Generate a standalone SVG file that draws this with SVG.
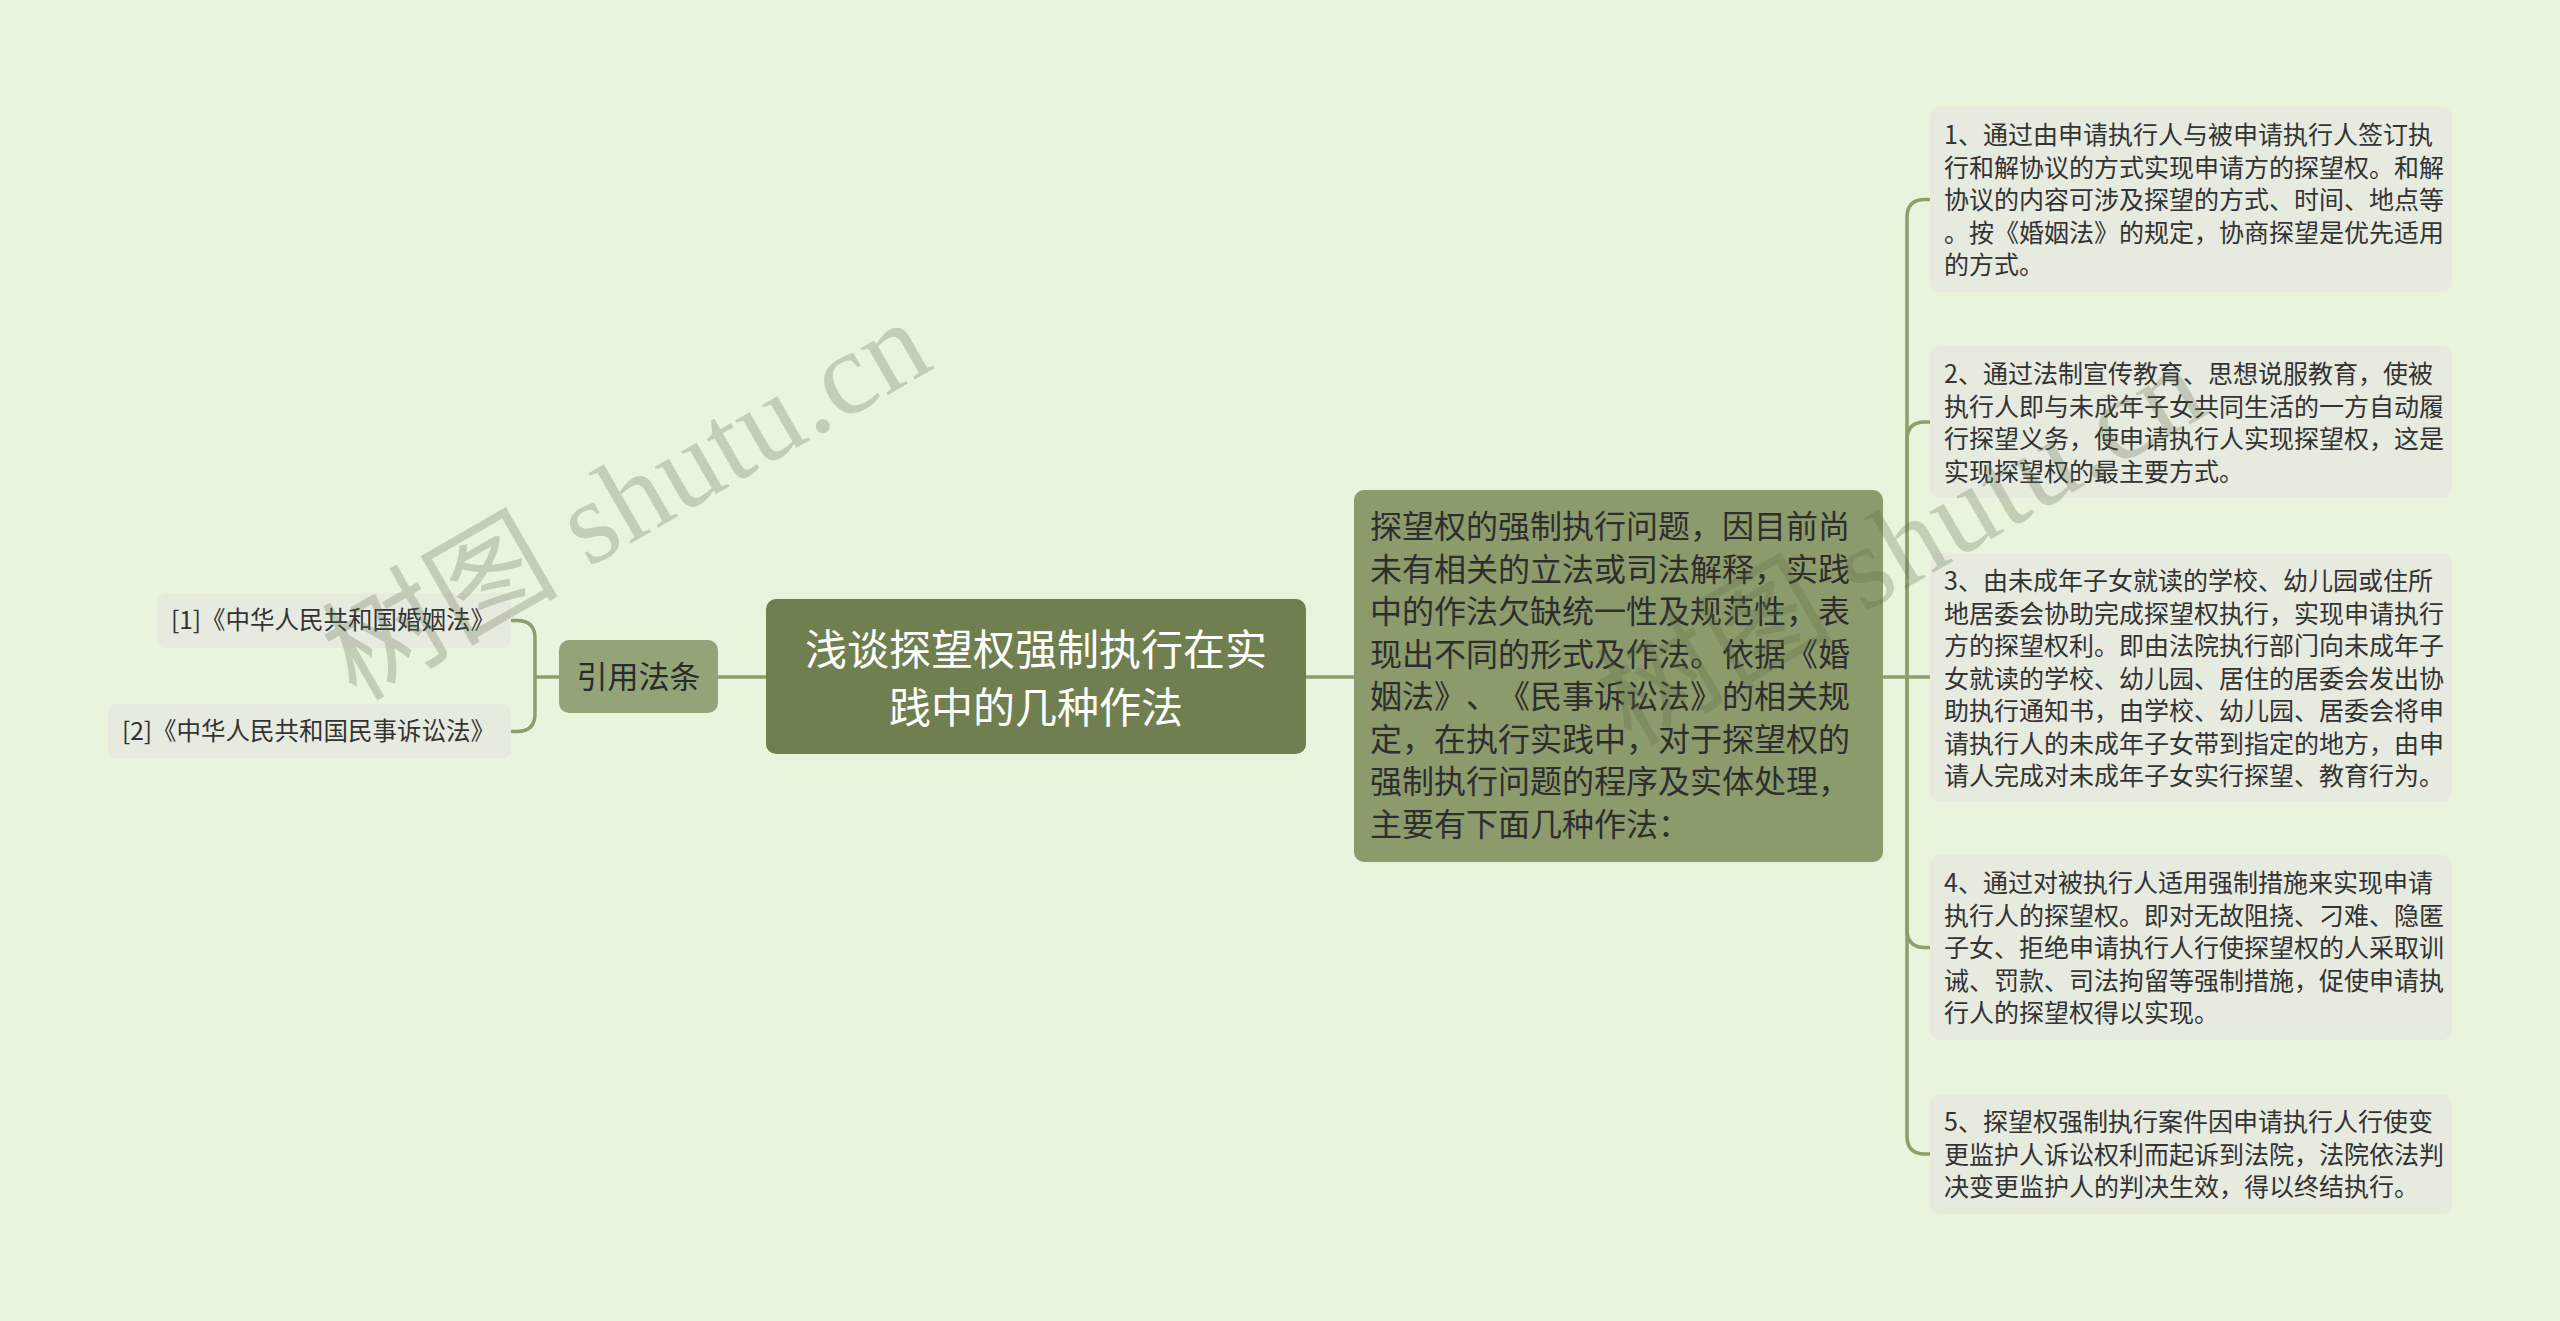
<svg xmlns="http://www.w3.org/2000/svg" width="2560" height="1321" viewBox="0 0 2560 1321">
<defs>
<style>
.t{font-family:"Noto Sans CJK SC","Liberation Sans",sans-serif;fill:#333333;font-kerning:none;text-spacing-trim:space-all;font-feature-settings:"palt" 0,"halt" 0,"chws" 0}
.leaf rect{fill:#e6eadf}
.leaf text{font-size:25px}
.lleaf text{font-size:24.5px;text-anchor:middle}
.conn{fill:none;stroke:#8e9e6e;stroke-width:3.5;stroke-linecap:round}
.wm{font-family:"Liberation Serif","Noto Sans CJK SC",serif;font-size:118px;fill:#5a6a48;opacity:0.26}
</style>
</defs>
<rect width="2560" height="1321" fill="#e8f4db"/>

<g id="connectors">
<path class="conn" d="M718 677 H766"/>
<path class="conn" d="M559 677 H535"/>
<path class="conn" d="M512 620.5 H517 Q535 620.5 535 638.5 V713.5 Q535 731.5 517 731.5 H512"/>
<path class="conn" d="M1306 677 H1354"/>
<path class="conn" d="M1883 677 H1930"/>
<path class="conn" d="M1907 677 V217.5 Q1907 199.5 1925 199.5 H1930"/>
<path class="conn" d="M1907 677 V440 Q1907 422 1925 422 H1930"/>
<path class="conn" d="M1907 677 V929.5 Q1907 947.5 1925 947.5 H1930"/>
<path class="conn" d="M1907 677 V1136 Q1907 1154 1925 1154 H1930"/>
</g>

<g id="main">
<rect x="766" y="599" width="540" height="155" rx="10" fill="#707f50"/>
<text class="t" x="1036" y="665" font-size="42" text-anchor="middle" style="fill:#ffffff">浅谈探望权强制执行在实</text>
<text class="t" x="1036" y="723" font-size="42" text-anchor="middle" style="fill:#ffffff">践中的几种作法</text>
</g>

<g id="yinyong">
<rect x="559" y="640" width="159" height="73" rx="10" fill="#93a479"/>
<text class="t" x="638.5" y="688" font-size="31" text-anchor="middle" style="fill:#2a2a2a">引用法条</text>
</g>

<g id="ref1" class="leaf lleaf">
<rect x="157" y="593" width="354" height="55" rx="9"/>
<text class="t" x="333" y="629">[1]《中华人民共和国婚姻法》</text>
</g>
<g id="ref2" class="leaf lleaf">
<rect x="108" y="704" width="403" height="55" rx="9"/>
<text class="t" x="308.5" y="740">[2]《中华人民共和国民事诉讼法》</text>
</g>

<g id="summary">
<rect x="1354" y="490" width="529" height="372" rx="10" fill="#8b9b6b"/>
<text class="t" font-size="32" style="fill:#2e2e2e">
<tspan x="1370" y="538">探望权的强制执行问题，因目前尚</tspan>
<tspan x="1370" y="580.5">未有相关的立法或司法解释，实践</tspan>
<tspan x="1370" y="623">中的作法欠缺统一性及规范性，表</tspan>
<tspan x="1370" y="665.5">现出不同的形式及作法。依据《婚</tspan>
<tspan x="1370" y="708">姻法》</tspan><tspan x="1466" y="708">、</tspan><tspan x="1498" y="708">《民事诉讼法》的相关规</tspan>
<tspan x="1370" y="750.5">定，在执行实践中，对于探望权的</tspan>
<tspan x="1370" y="793">强制执行问题的程序及实体处理，</tspan>
<tspan x="1370" y="835.5">主要有下面几种作法：</tspan>
</text>
</g>

<g id="leaf1" class="leaf">
<rect x="1930" y="107" width="522" height="185" rx="10"/>
<text class="t">
<tspan x="1944" y="144">1、通过由申请执行人与被申请执行人签订执</tspan>
<tspan x="1944" y="176.5">行和解协议的方式实现申请方的探望权。和解</tspan>
<tspan x="1944" y="209">协议的内容可涉及探望的方式、时间、地点等</tspan>
<tspan x="1944" y="241.5">。按《婚姻法》的规定，协商探望是优先适用</tspan>
<tspan x="1944" y="274">的方式。</tspan>
</text>
</g>

<g id="leaf2" class="leaf">
<rect x="1930" y="346" width="522" height="152" rx="10"/>
<text class="t">
<tspan x="1944" y="383">2、通过法制宣传教育、思想说服教育，使被</tspan>
<tspan x="1944" y="415.5">执行人即与未成年子女共同生活的一方自动履</tspan>
<tspan x="1944" y="448">行探望义务，使申请执行人实现探望权，这是</tspan>
<tspan x="1944" y="480.5">实现探望权的最主要方式。</tspan>
</text>
</g>

<g id="leaf3" class="leaf">
<rect x="1930" y="553" width="522" height="249" rx="10"/>
<text class="t">
<tspan x="1944" y="590">3、由未成年子女就读的学校、幼儿园或住所</tspan>
<tspan x="1944" y="622.5">地居委会协助完成探望权执行，实现申请执行</tspan>
<tspan x="1944" y="655">方的探望权利。即由法院执行部门向未成年子</tspan>
<tspan x="1944" y="687.5">女就读的学校、幼儿园、居住的居委会发出协</tspan>
<tspan x="1944" y="720">助执行通知书，由学校、幼儿园、居委会将申</tspan>
<tspan x="1944" y="752.5">请执行人的未成年子女带到指定的地方，由申</tspan>
<tspan x="1944" y="785">请人完成对未成年子女实行探望、教育行为。</tspan>
</text>
</g>

<g id="leaf4" class="leaf">
<rect x="1930" y="855" width="522" height="185" rx="10"/>
<text class="t">
<tspan x="1944" y="892">4、通过对被执行人适用强制措施来实现申请</tspan>
<tspan x="1944" y="924.5">执行人的探望权。即对无故阻挠、刁难、隐匿</tspan>
<tspan x="1944" y="957">子女、拒绝申请执行人行使探望权的人采取训</tspan>
<tspan x="1944" y="989.5">诫、罚款、司法拘留等强制措施，促使申请执</tspan>
<tspan x="1944" y="1022">行人的探望权得以实现。</tspan>
</text>
</g>

<g id="leaf5" class="leaf">
<rect x="1930" y="1094" width="522" height="120" rx="10"/>
<text class="t">
<tspan x="1944" y="1131">5、探望权强制执行案件因申请执行人行使变</tspan>
<tspan x="1944" y="1163.5">更监护人诉讼权利而起诉到法院，法院依法判</tspan>
<tspan x="1944" y="1196">决变更监护人的判决生效，得以终结执行。</tspan>
</text>
</g>

<g id="watermarks">
<text class="wm" transform="translate(356 702) rotate(-30)" textLength="670" lengthAdjust="spacing">树图 shutu.cn</text>
<text class="wm" transform="translate(1631 747) rotate(-30)" textLength="670" lengthAdjust="spacing">树图 shutu.cn</text>
</g>
</svg>
